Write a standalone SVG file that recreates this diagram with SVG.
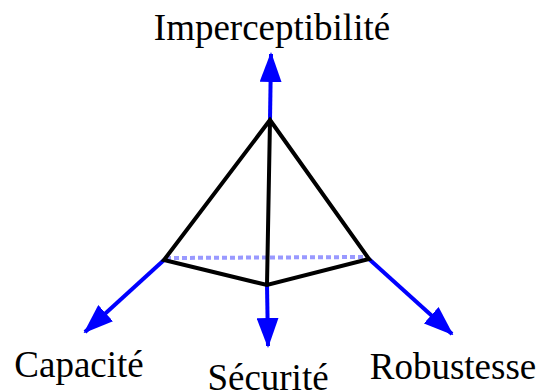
<svg xmlns="http://www.w3.org/2000/svg" width="542" height="391" viewBox="0 0 542 391">
<style>
.axis{stroke:#0000ff;stroke-width:4;fill:none}
.edge{stroke:#000;stroke-width:4;fill:none;stroke-linejoin:miter}
</style>
<defs>
<marker id="ah" viewBox="0 0 30 22" refX="28" refY="11" markerWidth="30" markerHeight="22" markerUnits="userSpaceOnUse" orient="auto">
<path d="M0,0 L30,11 L0,22 Z" fill="#0000ff"/>
</marker>
</defs>
<g id="connectors">
<line class="axis" x1="270" y1="120" x2="271" y2="54" marker-end="url(#ah)"/>
<line class="axis" x1="267" y1="285" x2="268" y2="346" marker-end="url(#ah)"/>
<line class="axis" x1="164" y1="260" x2="85" y2="332" marker-end="url(#ah)"/>
<line class="axis" x1="369" y1="259" x2="452" y2="334" marker-end="url(#ah)"/>
</g>
<g id="pyramid">
<line x1="166" y1="258" x2="367" y2="257" stroke="#9999ff" stroke-width="4" stroke-dasharray="5,3"/>
<path class="edge" d="M164,260 L270,120 L369,259 L267,285 Z M270,120 L267,285"/>
</g>
<g font-family="Liberation Serif, DejaVu Serif, serif" font-size="37" fill="#000" text-anchor="middle">
<g id="imperceptibilite"><text x="272" y="40">Imperceptibilité</text></g>
<g id="capacite"><text x="79" y="377">Capacité</text></g>
<g id="securite"><text x="268" y="390">Sécurité</text></g>
<g id="robustesse"><text x="453" y="379">Robustesse</text></g>
</g>
</svg>
